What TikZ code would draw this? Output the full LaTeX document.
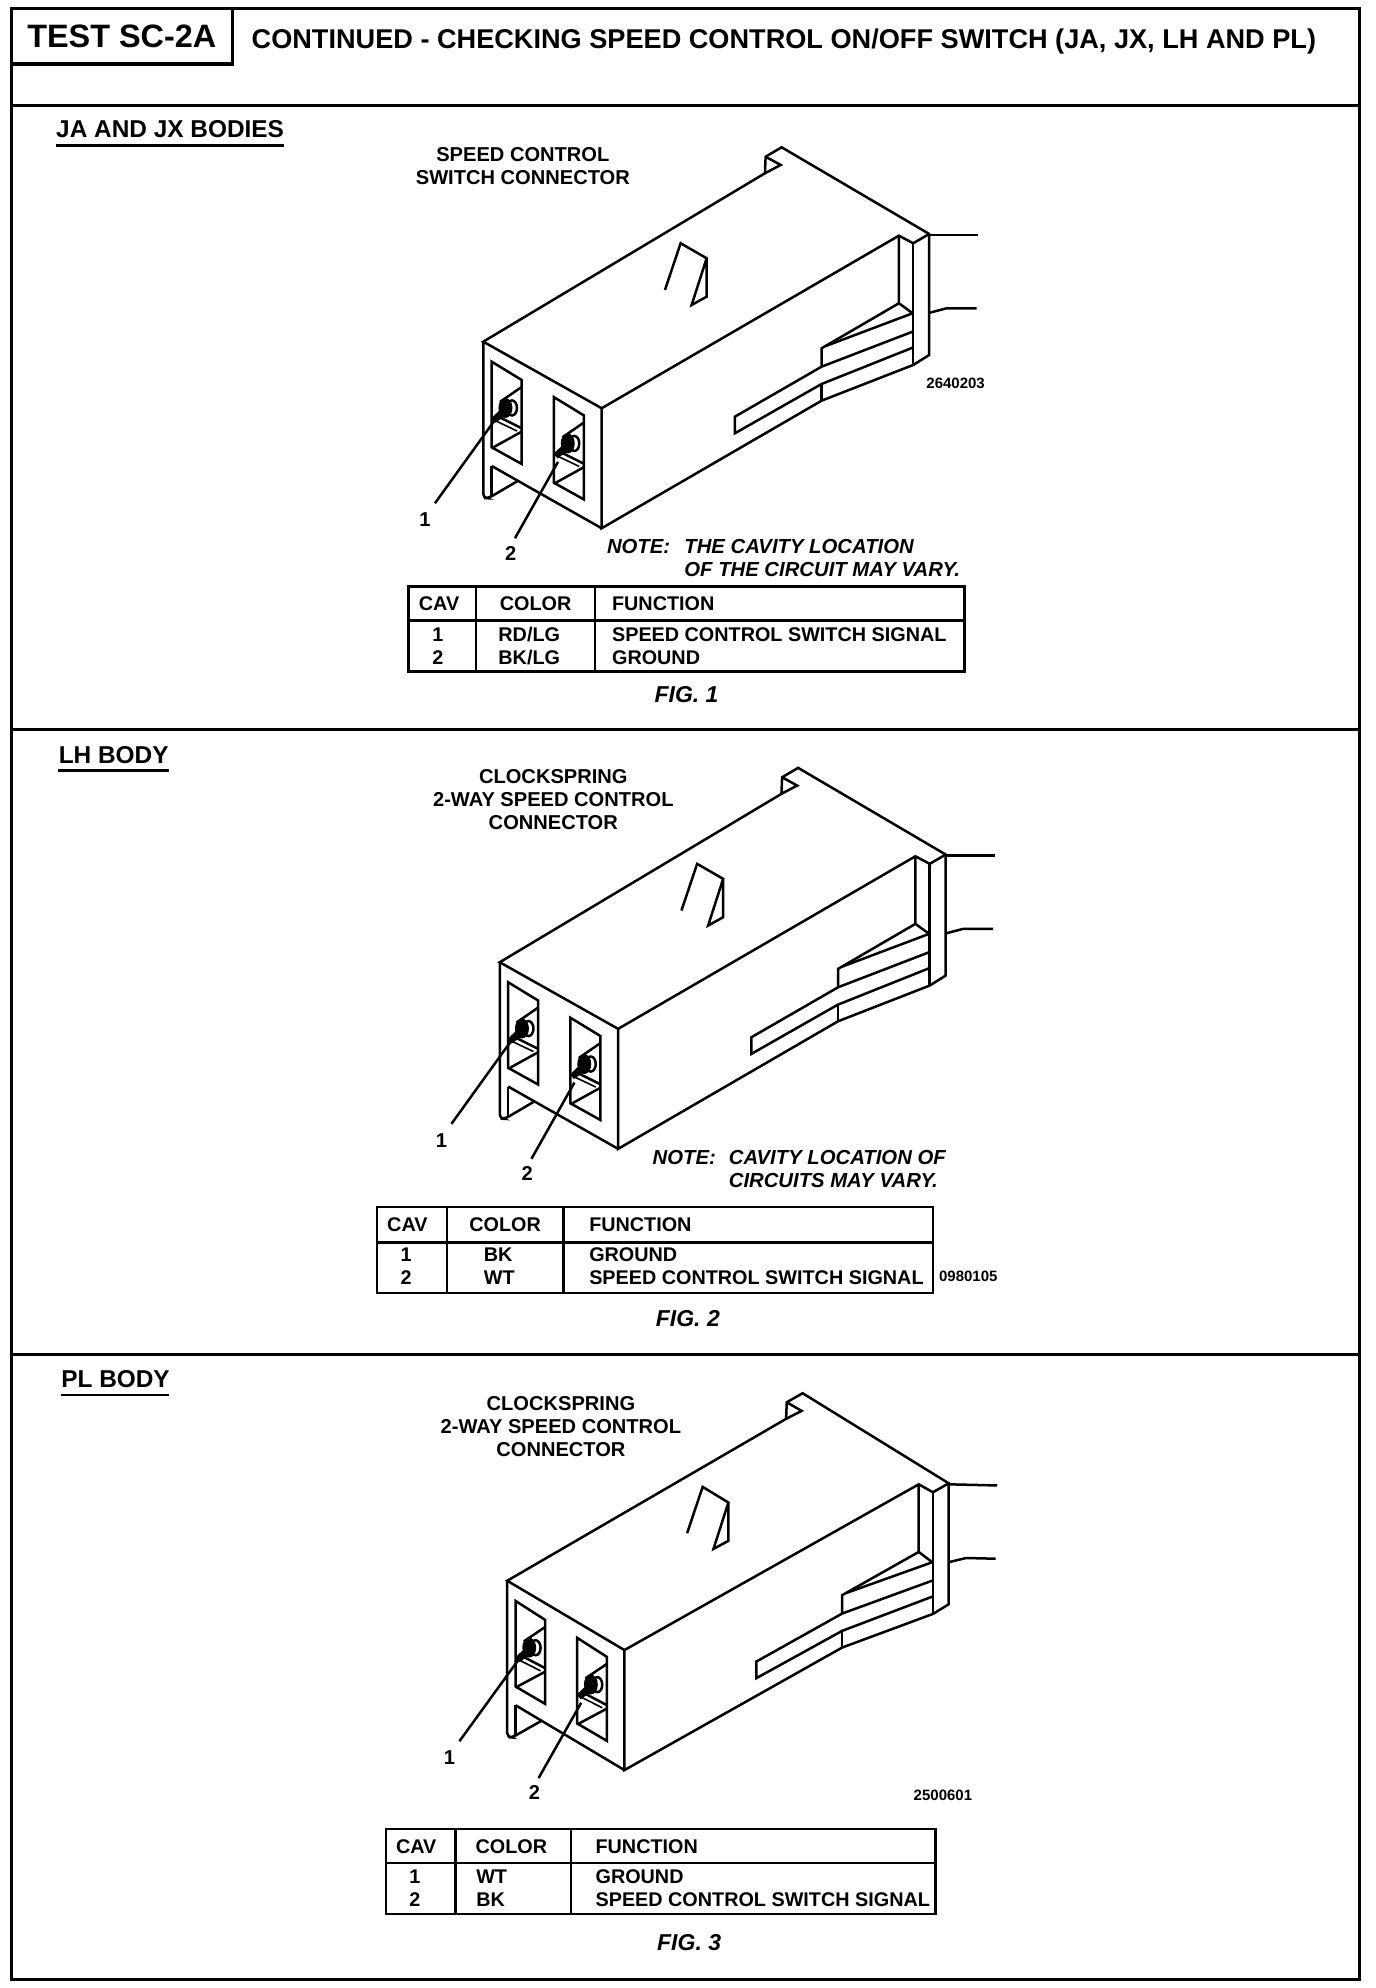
\documentclass[tikz,border=0pt]{standalone}
\usepackage{fontspec}
\setmainfont{Liberation Sans}
\newcommand{\fsz}[1]{\fontsize{#1}{#1}\selectfont}
\tikzset{
  x=0.6346pt,y=-0.6346pt,
  frameline/.style={line width=1.6pt,black},
  rule/.style={line width=1.2pt,black},
  ln/.style={line width=1.25pt,black,line join=miter},
  thin ln/.style={line width=0.8pt,black},
  txt/.style={inner sep=0pt,font=\bfseries\fsz{10.05}},
  tabtxt/.style={inner sep=0pt,font=\fsz{9.9}\bfseries},
  note/.style={inner sep=0pt,font=\fsz{10.15}\bfseries\itshape},
  figlab/.style={inner sep=0pt,font=\fsz{11.5}\bfseries\itshape},
  head/.style={inner sep=0pt,font=\fsz{13.57}\bfseries},
  sect/.style={inner sep=0pt,font=\fsz{12.2}\bfseries},
  tiny/.style={inner sep=0pt,font=\fsz{7.5}\bfseries},
  conngeom/.style={x=0.5pt,y=-0.5pt},
  conngeomB/.style={x={(0.495pt,-0.0115pt)},y={(0pt,-0.5pt)}},
  connbody/.code={},
  conn/.pic={
    \begin{scope}[conngeom]
      \connshape
    \end{scope}
  },
  connB/.pic={
    \begin{scope}[conngeomB]
      \connshape
    \end{scope}
  }
}
\newcommand{\connshape}{%
      % body outline
      \draw[ln] (483.3,341.7) -- (765,173.3) -- (765.7,156.7) -- (781.7,147.3) -- (929.3,234) -- (929.3,355) -- (913.3,365) -- (821.7,400.7) -- (601.7,528.3) -- (601.7,408.3) -- cycle;
      \draw[ln] (765.7,156.7) -- (780.7,165) -- (765,173.3);
      \draw[ln] (601.7,408.3) -- (899,235.7) -- (913.3,243.3) -- (929.3,234);
      \draw[ln] (913.3,243.3) -- (913.3,365);
      \draw[ln] (899,235.7) -- (899,303.3) -- (912.7,313.3);
      % front lip
      \draw[ln,rounded corners=2pt] (483.3,341.7) -- (483.3,498) -- (488.3,498.3) -- (518.3,480.7);
      \draw[ln] (491.7,466) -- (491.7,496);
      \draw[ln] (491.7,466) -- (601.7,528.3);
      % latch
      \draw[ln] (821.7,366.7) -- (821.7,348.3) -- (899,303.3);
      \draw[ln] (826,346) -- (912.7,313.3);
      \draw[ln] (912.7,331.7) -- (821.7,366.7) -- (735,416.7) -- (735,433.3) -- (821.7,384) -- (912.7,347.7);
      \draw[ln] (821.7,384) -- (821.7,400.7);
      % tab on top
      \draw[ln] (665,290) -- (680.7,243.3) -- (706.7,258.3) -- (691.7,305) -- (706.7,296.7) -- (706.7,258.3);
      % wires
      \draw[ln] (929.3,235) -- (978.3,235);
      \draw[ln] (930,312.7) -- (946.7,308.3) -- (976.7,308.3);
      % cavities
      \foreach \dx/\dy in {0/0,62.3/35.5}{
        \begin{scope}[shift={(\dx,\dy)}]
          \draw[ln] (491.7,361.7) -- (521.7,380) -- (521.7,464) -- (491.7,447.3) -- cycle;
          \draw[ln] (521.7,387) -- (500,402);
          \draw[ln] (495,415) -- (521.7,428.3);
          \draw[thin ln] (491.7,419) -- (517,431);
          \draw[ln] (521.7,431.7) -- (491.7,448.3);
          \draw[ln] (512,408) ellipse [x radius=5,y radius=7.5];
          \fill[black] (505.5,408) ellipse [x radius=7,y radius=10];
          \fill[black] (500,410) -- (507,415) -- (495,423) -- (491.7,418) -- cycle;
        \end{scope}
      }
      % leaders
      \draw[ln] (495,420) -- (435,503.3);
      \draw[ln] (558,462) -- (515,538.3);
      \node[txt] (-n1) at (425,520) {1};
      \node[txt] (-n2) at (510.7,553.3) {2};
}
\begin{document}
\begin{tikzpicture}
\useasboundingbox (0,0) rectangle (1084.2,1566.5);
\fill[white] (0,0) rectangle (1084.2,1566.5);
% frame
\draw[frameline] (9,6.5) rectangle (1071,1560);
\draw[frameline] (9,83) -- (1071,83);
\draw[frameline] (9,575) -- (1071,575);
\draw[frameline] (9,1067) -- (1071,1067);
\draw[frameline] (9,50.5) -- (183,50.5) -- (183,6.5);
\node[inner sep=0pt,font=\fsz{16.2}\bfseries] (tt) at (96,28.4) {TEST SC-2A};
\node[head,anchor=west] (ti) at (198,33) {CONTINUED - CHECKING SPEED CONTROL ON/OFF SWITCH (JA, JX, LH AND PL)};

% FIG 1
\node[sect,anchor=west] (h1) at (44,102) {JA AND JX BODIES};
\draw[rule] (44,114.5) -- (224,114.5);
\node[txt] (a1) at (412,122) {SPEED CONTROL};
\node[txt] (a2) at (412,140) {SWITCH CONNECTOR};
\pic (c1) at (0,0) {conn};
\node[tiny] (id1) at (753,302) {2640203};
\node[note,anchor=west] (n1) at (478,431) {NOTE:};
\node[note,anchor=west] (n2) at (539,431) {THE CAVITY LOCATION};
\node[note,anchor=west] (n3) at (539,449) {OF THE CIRCUIT MAY VARY.};
\draw[rule] (322,462) rectangle (760,529);
\draw[rule] (322,489) -- (760,489);
\draw[rule] (375,462) -- (375,529);
\draw[rule] (469,462) -- (469,529);
\node[tabtxt] (t11) at (346,476) {CAV};
\node[tabtxt] (t12) at (422,476) {COLOR};
\node[tabtxt,anchor=west] (t13) at (482,476) {FUNCTION};
\node[tabtxt] (t14) at (345,500) {1};
\node[tabtxt] (t15) at (345,518) {2};
\node[tabtxt] (t16) at (417,500) {RD/LG};
\node[tabtxt] (t17) at (417,518) {BK/LG};
\node[tabtxt,anchor=west] (t18) at (482,500) {SPEED CONTROL SWITCH SIGNAL};
\node[tabtxt,anchor=west] (t19) at (482,518) {GROUND};
\node[figlab] (f1) at (541,547) {FIG. 1};

% FIG 2
\node[sect,anchor=west] (h2) at (46,595) {LH BODY};
\draw[rule] (46,607) -- (133,607);
\node[txt] (b1) at (436,612) {CLOCKSPRING};
\node[txt] (b2) at (436,630) {2-WAY SPEED CONTROL};
\node[txt] (b3) at (436,648) {CONNECTOR};
\pic (c2) at (13,489) {conn};
\node[note,anchor=west] (m1) at (514,912) {NOTE:};
\node[note,anchor=west] (m2) at (574,912) {CAVITY LOCATION OF};
\node[note,anchor=west] (m3) at (574,930) {CIRCUITS MAY VARY.};
\draw[rule] (297,951) rectangle (735,1019);
\draw[rule] (297,979) -- (735,979);
\draw[rule] (352,951) -- (352,1019);
\draw[rule] (444,951) -- (444,1019);
\node[tabtxt] (t21) at (321,965) {CAV};
\node[tabtxt] (t22) at (398,965) {COLOR};
\node[tabtxt,anchor=west] (t23) at (464,965) {FUNCTION};
\node[tabtxt] (t24) at (320,989) {1};
\node[tabtxt] (t25) at (320,1007) {2};
\node[tabtxt,anchor=west] (t26) at (381,989) {BK};
\node[tabtxt,anchor=west] (t27) at (381,1007) {WT};
\node[tabtxt,anchor=west] (t28) at (464,989) {GROUND};
\node[tabtxt,anchor=west] (t29) at (464,1007) {SPEED CONTROL SWITCH SIGNAL};
\node[tiny] (id2) at (763,1006) {0980105};
\node[figlab] (f2) at (542,1039) {FIG. 2};

% FIG 3
\node[sect,anchor=west] (h3) at (48,1087) {PL BODY};
\draw[rule] (48,1099) -- (133,1099);
\node[txt] (d1) at (442,1106) {CLOCKSPRING};
\node[txt] (d2) at (442,1124) {2-WAY SPEED CONTROL};
\node[txt] (d3) at (442,1142) {CONNECTOR};
\pic (c3) at (22.7,967.6) {connB};
\node[tiny] (id3) at (743,1415) {2500601};
\draw[rule] (304,1441) rectangle (737,1508);
\draw[rule] (304,1468) -- (737,1468);
\draw[rule] (359,1441) -- (359,1508);
\draw[rule] (450,1441) -- (450,1508);
\node[tabtxt] (t31) at (328,1455) {CAV};
\node[tabtxt] (t32) at (403,1455) {COLOR};
\node[tabtxt,anchor=west] (t33) at (469,1455) {FUNCTION};
\node[tabtxt] (t34) at (327,1479) {1};
\node[tabtxt] (t35) at (327,1497) {2};
\node[tabtxt,anchor=west] (t36) at (375,1479) {WT};
\node[tabtxt,anchor=west] (t37) at (375,1497) {BK};
\node[tabtxt,anchor=west] (t38) at (469,1479) {GROUND};
\node[tabtxt,anchor=west] (t39) at (469,1497) {SPEED CONTROL SWITCH SIGNAL};
\node[figlab] (f3) at (543,1531) {FIG. 3};
\end{tikzpicture}
\end{document}
